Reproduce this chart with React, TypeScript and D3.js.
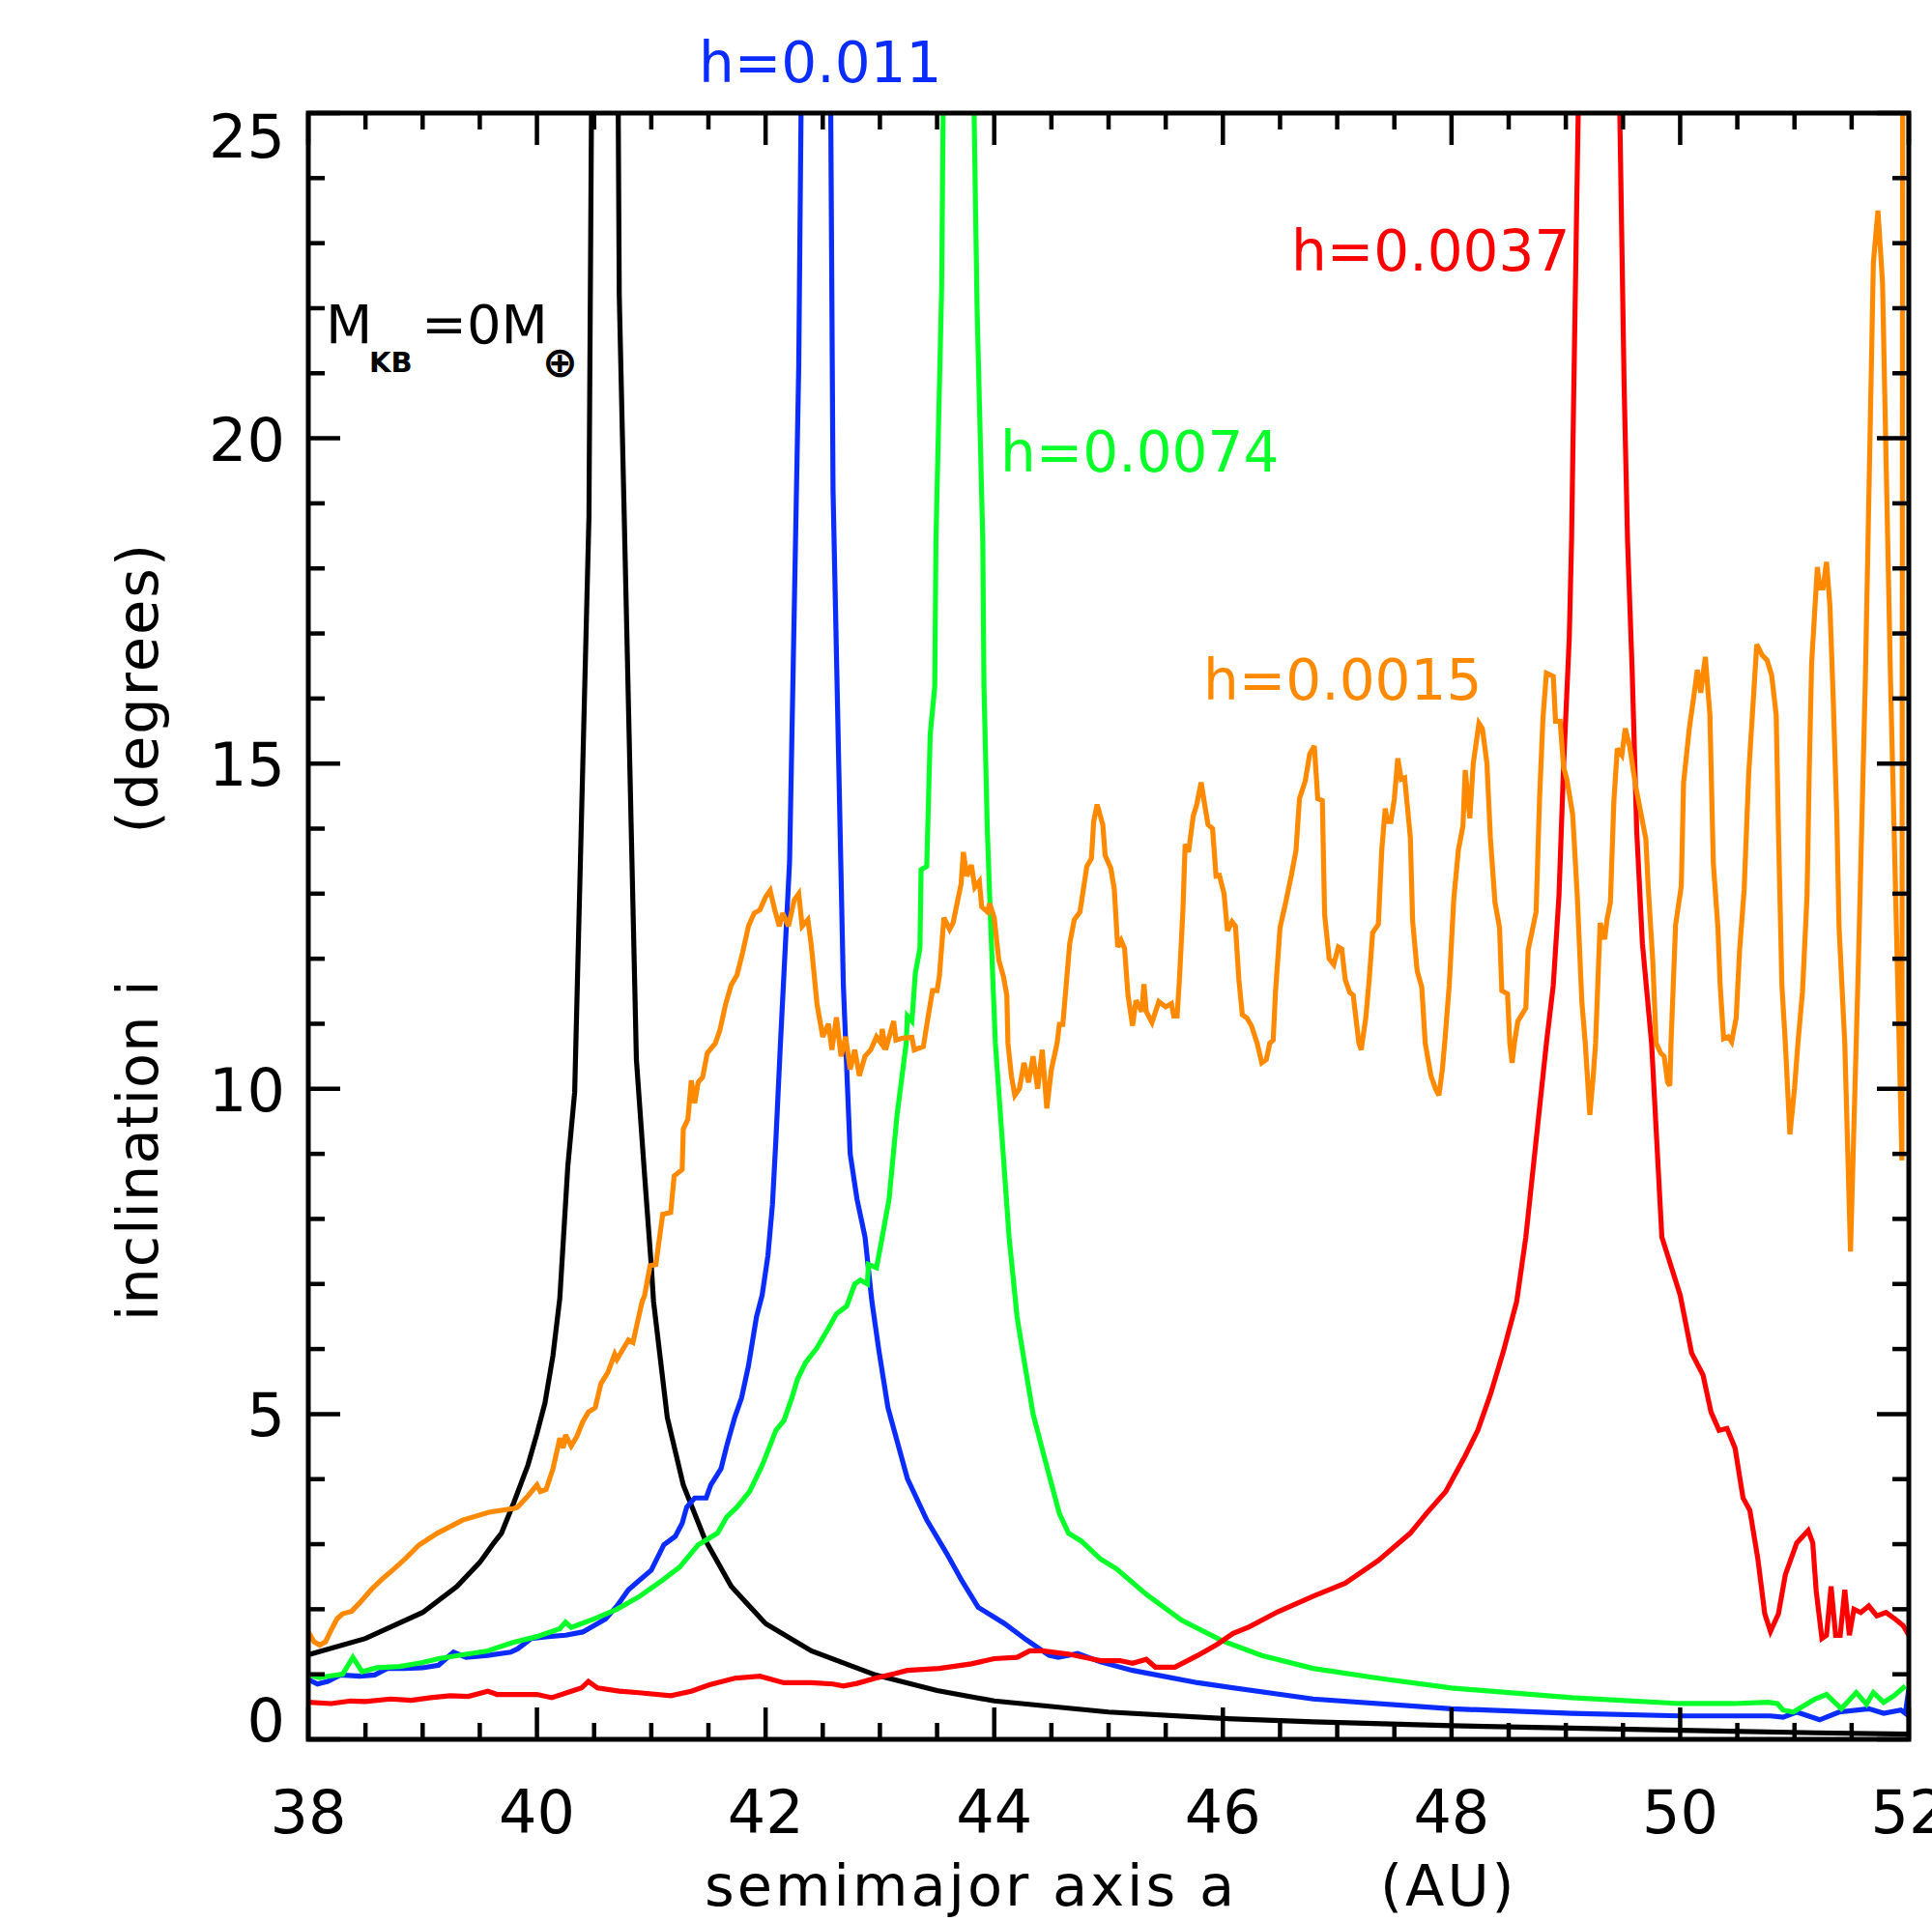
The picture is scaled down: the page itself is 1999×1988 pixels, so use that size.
import React from 'react';
import * as d3 from 'd3';

const W = 1999;
const H = 1988;
const PLOT = { left: 319, right: 1975, top: 117, bottom: 1800 };

const xDomain: [number, number] = [38, 52];
const yDomain: [number, number] = [0, 25];
const xMajorTicks = [38, 40, 42, 44, 46, 48, 50, 52];
const xTickLabels = ['38', '40', '42', '44', '46', '48', '50', '52'];
const yMajorTicks = [0, 5, 10, 15, 20, 25];
const yTickLabels = ['0', '5', '10', '15', '20', '25'];

// M_KB = 0 (black)
const seriesBlack: [number, number][] = [
  [38, 1.3], [38.5, 1.55], [39, 1.95], [39.3, 2.35], [39.5, 2.72], [39.61, 2.99], [39.69, 3.17],
  [39.8, 3.65], [39.92, 4.21], [40.0, 4.7], [40.07, 5.17], [40.14, 5.9], [40.2, 6.78], [40.27, 8.81],
  [40.33, 9.95], [40.455, 18.8], [40.6, 60], [40.72, 22.2], [40.87, 10.45], [40.94, 8.71], [41.0, 7.28],
  [41.02, 6.73], [41.14, 4.95], [41.28, 3.91], [41.47, 3.07], [41.7, 2.35], [42.0, 1.78], [42.4, 1.36],
  [42.96, 0.99], [43.5, 0.75], [44.0, 0.59], [45.0, 0.42], [46.0, 0.32], [46.79, 0.27], [48, 0.21],
  [50, 0.14], [51.18, 0.1], [52, 0.08],
];

// h = 0.011 (blue)
const seriesBlue: [number, number][] = [
  [38, 0.92], [38.08, 0.85], [38.17, 0.89], [38.28, 0.99], [38.45, 0.97], [38.58, 0.99], [38.69, 1.09],
  [38.84, 1.09], [39.0, 1.1], [39.14, 1.14], [39.27, 1.34], [39.38, 1.26], [39.57, 1.29], [39.77, 1.34],
  [39.83, 1.39], [39.95, 1.55], [40.1, 1.58], [40.25, 1.6], [40.4, 1.65], [40.5, 1.75], [40.6, 1.85],
  [40.7, 2.05], [40.8, 2.3], [40.9, 2.45], [41.0, 2.6], [41.11, 2.99], [41.21, 3.12], [41.27, 3.32],
  [41.31, 3.57], [41.38, 3.71], [41.48, 3.71], [41.52, 3.91], [41.61, 4.16], [41.66, 4.51], [41.73, 4.95],
  [41.79, 5.25], [41.85, 5.74], [41.92, 6.49], [41.97, 6.83], [42.02, 7.43], [42.06, 8.22], [42.09, 9.21],
  [42.13, 10.7], [42.21, 13.5], [42.29, 21.1], [42.31, 25], [42.44, 60], [42.57, 25], [42.59, 19.2],
  [42.68, 11.6], [42.74, 9.0], [42.8, 8.3], [42.87, 7.72], [42.93, 6.73], [42.99, 5.99], [43.07, 5.1],
  [43.24, 4.01], [43.41, 3.37], [43.58, 2.87], [43.72, 2.43], [43.86, 2.03], [44.09, 1.78], [44.28, 1.53],
  [44.48, 1.29], [44.56, 1.26], [44.73, 1.32], [44.93, 1.19], [45.21, 1.06], [45.78, 0.87], [46.79, 0.62],
  [48, 0.47], [49.05, 0.4], [50, 0.36], [50.79, 0.36], [50.9, 0.34], [51.02, 0.42], [51.22, 0.3],
  [51.39, 0.42], [51.65, 0.47], [51.78, 0.4], [51.93, 0.45], [51.97, 0.4], [52, 0.77],
];

// h = 0.0074 (green)
const seriesGreen: [number, number][] = [
  [38, 0.99], [38.1, 0.95], [38.17, 0.97], [38.3, 1.0], [38.39, 1.26], [38.47, 1.04], [38.6, 1.1],
  [38.8, 1.12], [39.0, 1.18], [39.14, 1.24], [39.35, 1.3], [39.57, 1.36], [39.79, 1.49], [40.0, 1.58],
  [40.2, 1.7], [40.25, 1.8], [40.3, 1.72], [40.5, 1.85], [40.7, 2.0], [40.9, 2.2], [41.1, 2.45],
  [41.25, 2.65], [41.41, 2.99], [41.58, 3.17], [41.66, 3.42], [41.75, 3.57], [41.86, 3.81], [41.97, 4.21],
  [42.09, 4.75], [42.16, 4.9], [42.23, 5.25], [42.28, 5.54], [42.35, 5.79], [42.45, 6.02], [42.54, 6.29],
  [42.62, 6.54], [42.71, 6.66], [42.78, 7.0], [42.83, 7.06], [42.89, 7.0], [42.9, 7.3], [42.97, 7.25],
  [43.02, 7.72], [43.08, 8.3], [43.15, 9.6], [43.23, 10.7], [43.24, 11.12], [43.28, 11.04], [43.31, 11.78],
  [43.35, 12.16], [43.36, 13.37], [43.41, 13.42], [43.44, 15.45], [43.48, 16.19], [43.49, 18.42],
  [43.54, 22.3], [43.65, 45], [43.85, 22], [43.9, 18.42], [43.91, 16.19], [43.94, 13.96], [43.97, 12.48],
  [44.01, 10.7], [44.13, 7.72], [44.2, 6.49], [44.26, 5.84], [44.34, 5.0], [44.45, 4.26], [44.57, 3.47],
  [44.65, 3.17], [44.76, 3.05], [44.93, 2.77], [45.07, 2.62], [45.33, 2.23], [45.64, 1.83], [46.0, 1.51],
  [46.34, 1.29], [46.79, 1.09], [47.36, 0.94], [48, 0.79], [49.05, 0.64], [50, 0.55], [50.46, 0.55],
  [50.77, 0.57], [50.85, 0.55], [50.9, 0.45], [50.99, 0.42], [51.18, 0.62], [51.28, 0.69], [51.41, 0.47],
  [51.54, 0.72], [51.63, 0.54], [51.69, 0.72], [51.78, 0.57], [51.87, 0.67], [51.97, 0.82],
];

// h = 0.0037 (red)
const seriesRed: [number, number][] = [
  [38, 0.57], [38.2, 0.55], [38.37, 0.59], [38.5, 0.58], [38.72, 0.62], [38.9, 0.6], [39.07, 0.64],
  [39.24, 0.67], [39.4, 0.66], [39.57, 0.74], [39.65, 0.69], [40.0, 0.69], [40.13, 0.64], [40.3, 0.74],
  [40.39, 0.79], [40.45, 0.89], [40.53, 0.79], [40.72, 0.74], [40.87, 0.72], [41.17, 0.67], [41.35, 0.74],
  [41.51, 0.84], [41.73, 0.94], [41.95, 0.97], [42.16, 0.87], [42.4, 0.87], [42.59, 0.85], [42.68, 0.82],
  [42.8, 0.86], [42.96, 0.94], [43.13, 1.01], [43.24, 1.06], [43.52, 1.09], [43.8, 1.16], [44.0, 1.24],
  [44.2, 1.26], [44.31, 1.36], [44.42, 1.36], [44.65, 1.31], [44.79, 1.26], [44.93, 1.21], [45.1, 1.21],
  [45.21, 1.17], [45.33, 1.23], [45.41, 1.11], [45.58, 1.11], [45.78, 1.29], [45.95, 1.46], [46.09, 1.63],
  [46.23, 1.73], [46.48, 1.96], [46.79, 2.2], [47.07, 2.4], [47.36, 2.75], [47.64, 3.17], [47.78, 3.47],
  [47.95, 3.81], [48.12, 4.36], [48.23, 4.75], [48.34, 5.3], [48.45, 5.94], [48.57, 6.73], [48.65, 7.72],
  [48.83, 10.7], [48.89, 11.59], [48.94, 12.97], [48.98, 14.95], [49.03, 16.93], [49.05, 18.42],
  [49.07, 20.8], [49.29, 45], [49.51, 20.8], [49.54, 18.42], [49.58, 16.44], [49.62, 13.96], [49.67, 12.23],
  [49.75, 10.7], [49.84, 7.72], [50.0, 6.83], [50.1, 5.94], [50.2, 5.6], [50.27, 5.03], [50.34, 4.75],
  [50.41, 4.78], [50.48, 4.48], [50.55, 3.71], [50.61, 3.52], [50.68, 2.77], [50.74, 1.93], [50.79, 1.66],
  [50.86, 1.93], [50.92, 2.53], [51.02, 3.02], [51.12, 3.21], [51.16, 3.02], [51.19, 2.28], [51.24, 1.55],
  [51.28, 1.6], [51.32, 2.35], [51.36, 1.6], [51.4, 1.6], [51.44, 2.3], [51.48, 1.6], [51.52, 2.0],
  [51.58, 1.95], [51.65, 2.05], [51.72, 1.9], [51.8, 1.95], [51.88, 1.85], [51.95, 1.75], [52, 1.6],
];

// h = 0.0015 (orange)
const seriesOrange: [number, number][] = [
  [38, 1.65], [38.05, 1.5], [38.1, 1.45], [38.15, 1.5], [38.2, 1.68], [38.25, 1.85], [38.3, 1.93],
  [38.38, 1.97], [38.45, 2.1], [38.55, 2.3], [38.65, 2.47], [38.75, 2.62], [38.85, 2.78], [38.97, 2.99],
  [39.13, 3.17], [39.35, 3.37], [39.58, 3.49], [39.8, 3.55], [39.83, 3.57], [39.92, 3.74], [40.0, 3.91],
  [40.03, 3.81], [40.08, 3.84], [40.14, 4.16], [40.2, 4.63], [40.23, 4.48], [40.25, 4.68], [40.3, 4.51],
  [40.35, 4.66], [40.4, 4.88], [40.45, 5.03], [40.51, 5.1], [40.56, 5.47], [40.62, 5.64], [40.68, 5.92],
  [40.7, 5.84], [40.8, 6.14], [40.84, 6.1], [40.87, 6.34], [40.92, 6.73], [40.94, 6.81], [40.99, 7.28],
  [41.04, 7.3], [41.1, 8.07], [41.17, 8.1], [41.2, 8.66], [41.27, 8.76], [41.28, 9.38], [41.32, 9.53],
  [41.35, 10.13], [41.38, 9.78], [41.41, 10.1], [41.45, 10.18], [41.49, 10.55], [41.56, 10.7], [41.6, 10.9],
  [41.65, 11.3], [41.7, 11.6], [41.75, 11.75], [41.8, 12.1], [41.85, 12.5], [41.9, 12.7], [41.95, 12.75],
  [42.0, 12.95], [42.04, 13.05], [42.08, 12.75], [42.12, 12.5], [42.15, 12.7], [42.2, 12.5], [42.25, 12.9],
  [42.29, 13.0], [42.32, 12.5], [42.37, 12.6], [42.4, 12.2], [42.45, 11.3], [42.5, 10.8], [42.55, 11.0],
  [42.58, 10.6], [42.62, 11.1], [42.66, 10.5], [42.7, 10.8], [42.74, 10.3], [42.78, 10.6], [42.82, 10.2],
  [42.87, 10.5], [42.92, 10.6], [42.97, 10.8], [43.01, 10.7], [43.02, 10.92], [43.05, 10.6], [43.12, 11.04],
  [43.14, 10.75], [43.2, 10.78], [43.28, 10.79], [43.3, 10.6], [43.38, 10.65], [43.42, 11.09], [43.46, 11.51],
  [43.5, 11.51], [43.52, 11.73], [43.56, 12.63], [43.61, 12.45], [43.64, 12.55], [43.71, 13.15],
  [43.73, 13.64], [43.76, 13.27], [43.8, 13.44], [43.83, 13.1], [43.87, 13.19], [43.89, 12.8], [43.94, 12.72],
  [43.96, 12.85], [44.0, 12.63], [44.04, 11.98], [44.08, 11.73], [44.11, 11.44], [44.12, 10.7], [44.15, 10.2],
  [44.18, 9.9], [44.22, 10.0], [44.26, 10.4], [44.3, 10.1], [44.34, 10.5], [44.38, 10.0], [44.42, 10.6],
  [44.46, 9.7], [44.5, 10.3], [44.55, 10.7], [44.57, 10.99], [44.6, 10.99], [44.66, 12.23], [44.7, 12.6],
  [44.75, 12.72], [44.81, 13.42], [44.85, 13.54], [44.87, 14.11], [44.9, 14.37], [44.95, 14.06],
  [44.97, 13.59], [45.02, 13.39], [45.05, 13.07], [45.08, 12.18], [45.11, 12.28], [45.14, 12.16],
  [45.17, 11.44], [45.21, 10.97], [45.24, 11.36], [45.29, 11.19], [45.31, 11.61], [45.33, 11.19],
  [45.38, 11.02], [45.44, 11.34], [45.5, 11.26], [45.55, 11.31], [45.57, 11.12], [45.6, 11.12],
  [45.62, 11.68], [45.65, 12.72], [45.67, 13.76], [45.7, 13.64], [45.74, 14.19], [45.77, 14.36],
  [45.81, 14.71], [45.84, 14.38], [45.87, 14.06], [45.91, 14.0], [45.94, 13.27], [45.97, 13.28],
  [46.01, 13.0], [46.04, 12.43], [46.08, 12.57], [46.11, 12.5], [46.14, 11.68], [46.17, 11.14],
  [46.21, 11.09], [46.25, 10.97], [46.3, 10.7], [46.34, 10.4], [46.38, 10.45], [46.41, 10.7], [46.44, 10.75],
  [46.46, 11.48], [46.5, 12.48], [46.55, 12.87], [46.6, 13.29], [46.64, 13.67], [46.67, 14.46],
  [46.72, 14.73], [46.76, 15.15], [46.8, 15.27], [46.83, 14.46], [46.87, 14.43], [46.89, 12.68], [46.93, 12.0],
  [46.97, 11.91], [47.01, 12.18], [47.04, 12.15], [47.07, 11.68], [47.11, 11.48], [47.14, 11.44],
  [47.19, 10.7], [47.21, 10.6], [47.25, 11.09], [47.28, 11.68], [47.31, 12.4], [47.36, 12.53], [47.39, 13.67],
  [47.42, 14.31], [47.44, 14.11], [47.47, 14.11], [47.5, 14.46], [47.53, 15.08], [47.56, 14.76],
  [47.59, 14.78], [47.64, 13.86], [47.66, 12.57], [47.7, 11.81], [47.74, 11.56], [47.77, 10.7], [47.82, 10.2],
  [47.86, 10.0], [47.89, 9.9], [47.92, 10.3], [47.94, 10.7], [47.98, 11.59], [48.02, 12.92], [48.06, 13.67],
  [48.1, 14.04], [48.12, 14.9], [48.16, 14.16], [48.19, 15.0], [48.24, 15.62], [48.27, 15.54], [48.31, 15.0],
  [48.34, 13.86], [48.38, 12.87], [48.42, 12.48], [48.44, 11.51], [48.49, 11.46], [48.51, 10.7],
  [48.53, 10.4], [48.55, 10.7], [48.58, 11.04], [48.65, 11.24], [48.67, 12.13], [48.74, 12.72],
  [48.77, 14.46], [48.8, 15.7], [48.83, 16.39], [48.89, 16.34], [48.91, 15.65], [48.95, 15.65],
  [48.98, 14.95], [49.01, 14.75], [49.06, 14.21], [49.1, 12.97], [49.14, 11.34], [49.17, 10.7], [49.21, 9.6],
  [49.24, 10.2], [49.26, 10.7], [49.3, 12.55], [49.34, 12.3], [49.36, 12.6], [49.39, 12.87], [49.42, 14.41],
  [49.45, 15.23], [49.49, 15.13], [49.52, 15.54], [49.56, 15.25], [49.61, 14.66], [49.7, 13.84],
  [49.72, 13.12], [49.76, 11.98], [49.79, 10.7], [49.83, 10.55], [49.86, 10.5], [49.89, 10.1],
  [49.91, 10.05], [49.92, 10.7], [49.96, 12.52], [50.01, 13.12], [50.03, 14.71], [50.08, 15.54],
  [50.12, 16.04], [50.15, 16.44], [50.18, 16.09], [50.22, 16.64], [50.26, 15.75], [50.29, 13.47],
  [50.33, 12.48], [50.35, 11.59], [50.38, 10.77], [50.42, 10.8], [50.45, 10.72], [50.49, 11.09],
  [50.52, 12.13], [50.56, 13.07], [50.6, 14.86], [50.63, 15.7], [50.67, 16.83], [50.72, 16.66],
  [50.76, 16.59], [50.8, 16.36], [50.84, 15.75], [50.86, 13.96], [50.89, 11.59], [50.92, 10.7], [50.96, 9.3],
  [51.0, 10.0], [51.03, 10.7], [51.07, 11.49], [51.11, 12.97], [51.13, 14.95], [51.15, 16.54], [51.2, 18.02],
  [51.22, 17.7], [51.25, 17.7], [51.28, 18.1], [51.31, 17.43], [51.34, 15.94], [51.37, 14.21], [51.39, 12.48],
  [51.44, 10.7], [51.49, 7.5], [51.56, 12.0], [51.62, 16.3], [51.69, 22.7], [51.73, 23.5], [51.77, 22.4],
  [51.84, 16.3], [51.94, 8.9], [51.955, 50],
];

const FONT = '"DejaVu Sans", sans-serif';

const seriesList: { name: string; color: string; data: [number, number][] }[] = [
  { name: 'black', color: '#000000', data: seriesBlack },
  { name: 'blue', color: '#0a2cff', data: seriesBlue },
  { name: 'green', color: '#08ff2a', data: seriesGreen },
  { name: 'red', color: '#ff0000', data: seriesRed },
  { name: 'orange', color: '#ff8a00', data: seriesOrange },
];

export default function App() {
  const x = d3.scaleLinear().domain(xDomain).range([PLOT.left, PLOT.right]);
  const y = d3.scaleLinear().domain(yDomain).range([PLOT.bottom, PLOT.top]);
  const line = d3
    .line<[number, number]>()
    .x((d) => x(d[0]))
    .y((d) => y(d[1]));

  const xMinor = d3.range(38, 52.001, 0.5).filter((v) => Math.abs(v / 2 - Math.round(v / 2)) > 1e-6);
  const yMinor = d3.range(0, 25.001, 1).filter((v) => v % 5 !== 0);

  const majorLen = 33;
  const minorLen = 17;
  const tickW = 4.5;

  const yLabelY = (v: number) => {
    if (v === 0) return y(v) + 2;
    if (v === 25) return y(v) + 46;
    return y(v) + 23;
  };

  return (
    <svg
      width={W}
      height={H}
      viewBox={`0 0 ${W} ${H}`}
      style={{ position: 'absolute', left: 0, top: 0, display: 'block', background: '#fff' }}
    >
      <rect x={0} y={0} width={W} height={H} fill="#fff" />
      <defs>
        <clipPath id="plotClip">
          <rect x={PLOT.left} y={PLOT.top} width={PLOT.right - PLOT.left} height={PLOT.bottom - PLOT.top} />
        </clipPath>
      </defs>

      <g clipPath="url(#plotClip)">
        {seriesList.map((s) => (
          <path
            key={s.name}
            d={line(s.data) || ''}
            fill="none"
            stroke={s.color}
            strokeWidth={5.2}
            strokeLinejoin="miter"
            strokeMiterlimit={3}
          />
        ))}
      </g>

      {/* ticks */}
      <g stroke="#000" strokeWidth={tickW}>
        {xMajorTicks.map((v) => (
          <g key={`xm${v}`}>
            <line x1={x(v)} x2={x(v)} y1={PLOT.bottom} y2={PLOT.bottom - majorLen} />
            <line x1={x(v)} x2={x(v)} y1={PLOT.top} y2={PLOT.top + majorLen} />
          </g>
        ))}
        {xMinor.map((v) => (
          <g key={`xn${v}`}>
            <line x1={x(v)} x2={x(v)} y1={PLOT.bottom} y2={PLOT.bottom - minorLen} />
            <line x1={x(v)} x2={x(v)} y1={PLOT.top} y2={PLOT.top + minorLen} />
          </g>
        ))}
        {yMajorTicks.map((v) => (
          <g key={`ym${v}`}>
            <line x1={PLOT.left} x2={PLOT.left + majorLen} y1={y(v)} y2={y(v)} />
            <line x1={PLOT.right} x2={PLOT.right - majorLen} y1={y(v)} y2={y(v)} />
          </g>
        ))}
        {yMinor.map((v) => (
          <g key={`yn${v}`}>
            <line x1={PLOT.left} x2={PLOT.left + minorLen} y1={y(v)} y2={y(v)} />
            <line x1={PLOT.right} x2={PLOT.right - minorLen} y1={y(v)} y2={y(v)} />
          </g>
        ))}
      </g>

      {/* frame */}
      <rect
        x={PLOT.left}
        y={PLOT.top}
        width={PLOT.right - PLOT.left}
        height={PLOT.bottom - PLOT.top}
        fill="none"
        stroke="#000"
        strokeWidth={5}
      />

      {/* tick labels */}
      <g fontFamily={FONT} fontSize={62} fill="#000">
        {xMajorTicks.map((v, i) => (
          <text key={`xl${v}`} x={x(v)} y={1897} textAnchor="middle">
            {xTickLabels[i]}
          </text>
        ))}
        {yMajorTicks.map((v, i) => (
          <text key={`yl${v}`} x={295} y={yLabelY(v)} textAnchor="end">
            {yTickLabels[i]}
          </text>
        ))}
      </g>

      {/* axis titles */}
      <g fontFamily={FONT} fontSize={59} fill="#000">
        <text x={729} y={1972} letterSpacing={3}>semimajor axis a</text>
        <text x={1428} y={1972} letterSpacing={3}>(AU)</text>
        <text transform="translate(163,1367) rotate(-90)" letterSpacing={1}>inclination i</text>
        <text transform="translate(163,561) rotate(-90)" textAnchor="end" letterSpacing={2}>(degrees)</text>
      </g>

      {/* annotations */}
      <g fontFamily={FONT} fontSize={58}>
        <text x={723} y={85} fill="#0a2cff">h=0.011</text>
        <text x={1336} y={280} fill="#ff0000">h=0.0037</text>
        <text x={1035} y={488} fill="#08ff2a">h=0.0074</text>
        <text x={1245} y={724} fill="#ff8a00">h=0.0015</text>
      </g>

      <g fontFamily={FONT} fill="#000">
        <text x={337} y={355} fontSize={56}>M</text>
        <text x={382} y={385} fontSize={29} fontWeight="bold">KB</text>
        <text x={436} y={355} fontSize={56}>=0M</text>
        <text x={561} y={390} fontSize={44} fontWeight="bold">⊕</text>
      </g>
    </svg>
  );
}
